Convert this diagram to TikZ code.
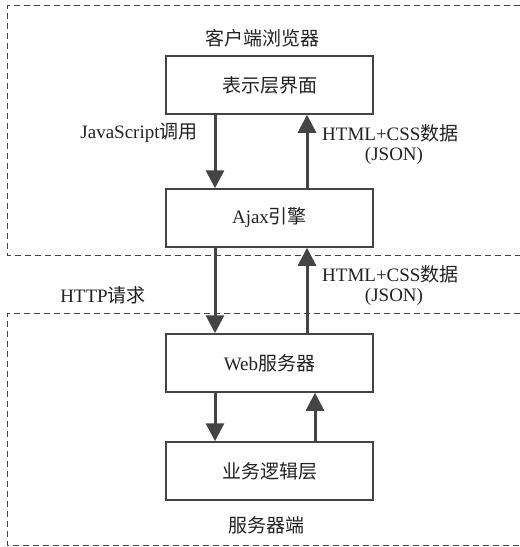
\documentclass[tikz,border=0pt]{standalone}
\usepackage{fontspec}
\setmainfont{Liberation Serif}
\newfontfamily\cjk{Noto Sans CJK SC}
\usetikzlibrary{arrows.meta}
\definecolor{lc}{HTML}{444444}
\definecolor{tc}{HTML}{222222}
\tikzset{
  box/.style={draw=lc, line width=1.5pt, minimum width=207pt, minimum height=58pt, inner sep=0pt, text=tc, font=\fontsize{19}{22}\selectfont},
  lbl/.style={text=tc, inner sep=0pt, font=\fontsize{19}{22}\selectfont, align=center},
  arr/.style={draw=lc, line width=3pt, -{Triangle[width=18pt,length=18pt]}},
  region/.style={draw=lc, line width=1pt, dash pattern=on 6pt off 4pt}
}
\begin{document}
\begin{tikzpicture}[x=1pt,y=-1pt]
\useasboundingbox (0,0) rectangle (520,547);
\draw[region] (530,5) -- (7.5,5) -- (7.5,255) -- (530,255);
\draw[region] (530,313) -- (7.5,313) -- (7.5,545) -- (530,545);
\node[box] (ui) at (269.5,85) {{\cjk 表示层界面}};
\node[box] (ajax) at (269.5,218) {Ajax{\cjk 引擎}};
\node[box] (web) at (269.5,363) {Web{\cjk 服务器}};
\node[box] (biz) at (269.5,471) {{\cjk 业务逻辑层}};
\coordinate (dn) at (215,0);
\coordinate (up) at (307,0);
\coordinate (up2) at (315,0);
\draw[arr] (ui.south -| dn) -- (ajax.north -| dn);
\draw[arr] (ajax.north -| up) -- (ui.south -| up);
\draw[arr] (ajax.south -| dn) -- (web.north -| dn);
\draw[arr] (web.north -| up) -- (ajax.south -| up);
\draw[arr] (web.south -| dn) -- (biz.north -| dn);
\draw[arr] (biz.north -| up2) -- (web.south -| up2);
\node[lbl] (client) at (262,38) {{\cjk 客户端浏览器}};
\node[lbl] (js) at (139,133) {JavaScript{\cjk 调用}};
\node[lbl, anchor=west] (h1) at (322,133) {HTML+CSS{\cjk 数据}};
\node[lbl] (j1) at (394,156) {(JSON)};
\node[lbl, anchor=west] (h2) at (322,274) {HTML+CSS{\cjk 数据}};
\node[lbl] (j2) at (394,297) {(JSON)};
\node[lbl] (http) at (103,295) {HTTP{\cjk 请求}};
\node[lbl] (server) at (266,525) {{\cjk 服务器端}};
\end{tikzpicture}
\end{document}
